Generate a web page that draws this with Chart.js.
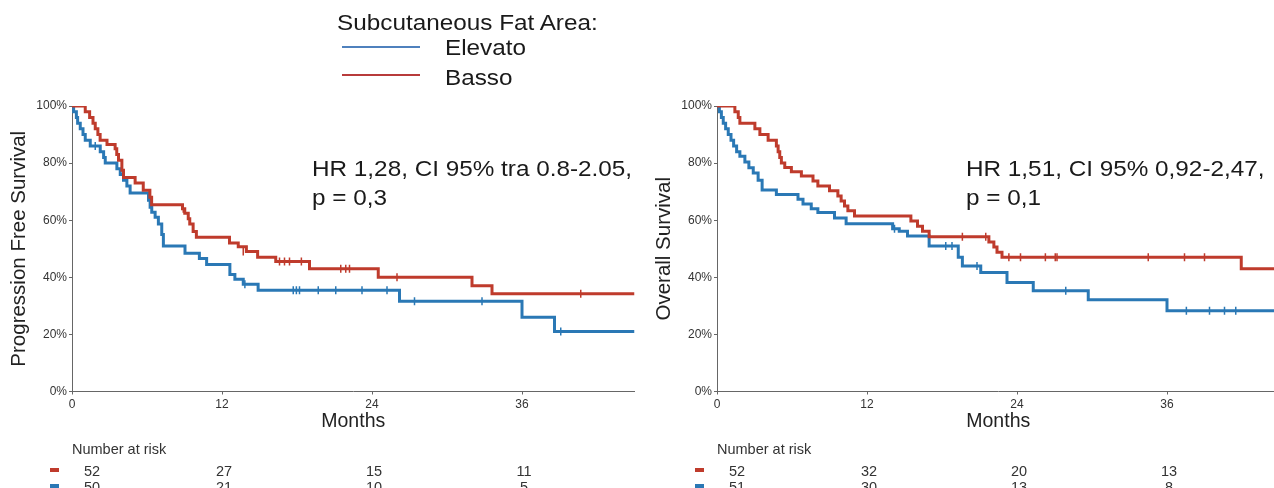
<!DOCTYPE html>
<html>
<head>
<meta charset="utf-8">
<script src="https://cdn.jsdelivr.net/npm/chart.js@4"></script>
<style>
  html, body { margin: 0; padding: 0; background: #fff; overflow: hidden; }
  #wrap { position: relative; width: 1274px; height: 488px; overflow: hidden; background: #fff;
          font-family: "Liberation Sans", Arial, sans-serif; color: #1a1a1a; }
  .box { position: absolute; top: 0; width: 640px; height: 488px; }
  .txt { position: absolute; white-space: nowrap; line-height: 1; font-size: 22.5px;
         transform: scaleX(1.08); transform-origin: 0 0; }
  .swatch { position: absolute; height: 2px; width: 78px; }
</style>
</head>
<body>
<div id="wrap">
  <div class="box" style="left:0"><canvas id="pfs"></canvas></div>
  <div class="box" style="left:645px"><canvas id="os"></canvas></div>

  <div class="txt" style="left:337px;top:12px">Subcutaneous Fat Area:</div>
  <div class="swatch" style="left:342px;top:46px;background:#4f81bd"></div>
  <div class="txt" style="left:445px;top:37px">Elevato</div>
  <div class="swatch" style="left:342px;top:74px;background:#b83b3b"></div>
  <div class="txt" style="left:445px;top:67px">Basso</div>

  <div class="txt" style="left:312px;top:155px;line-height:28.5px">HR 1,28, CI 95% tra 0.8-2.05,<br>p = 0,3</div>
  <div class="txt" style="left:966px;top:155px;line-height:28.5px">HR 1,51, CI 95% 0,92-2,47,<br>p = 0,1</div>
</div>

<script>
// colours
const RED = '#bf3b2c';
const BLUE = '#2a78b5';

// Progression free survival - Basso
const pfsBassoT = [0, 1.06, 1.41, 1.68, 1.86, 2.07, 2.25, 2.8, 3.45, 3.58, 3.72, 3.99, 4.12, 5.05, 5.7, 6.23, 6.37,
  8.84, 9.02, 9.3, 9.42, 9.69, 9.95, 12.6, 13.3, 13.95, 14.85, 16.3, 19.0, 24.5, 32.0, 33.6, 45];
const pfsBassoS = [100, 98, 96, 94, 92, 90, 88, 86.5, 85, 83, 81, 77.5, 75, 73, 70.5, 68, 65.4,
  64, 62.4, 60.5, 58.7, 56, 54, 52, 50.7, 49, 47, 45.5, 43, 40, 37, 34.2, 34.2];
const pfsBassoCensT = [8.9, 13.7, 16.6, 17.0, 17.4, 18.35, 21.5, 21.9, 22.2, 26.0, 40.7];
const pfsBassoCensS = [64, 49, 45.5, 45.5, 45.5, 45.5, 43, 43, 43, 40, 34.2];

// Progression free survival - Elevato
const pfsElevT = [0, 0.13, 0.35, 0.45, 0.66, 0.88, 1.06, 1.46, 2.26, 2.53, 2.66, 3.59, 3.86, 4.12, 4.39, 4.65,
  6.12, 6.25, 6.38, 6.65, 6.91, 7.18, 7.31, 9.04, 10.19, 10.77, 12.63, 13.03, 13.7, 14.89, 26.2, 36.0, 38.6, 45];
const pfsElevS = [100, 98, 96, 94, 92, 90, 88, 86, 84, 82, 80, 78, 76, 74, 72, 69.5,
  67, 64.5, 62.8, 61, 58.7, 55, 51, 48.4, 46.6, 44.5, 41, 39.3, 37.6, 35.5, 31.6, 26, 21, 21];
const pfsElevCensT = [1.86, 13.83, 17.7, 17.95, 18.2, 19.7, 21.1, 23.2, 25.2, 27.4, 32.8, 39.1];
const pfsElevCensS = [86, 37.6, 35.5, 35.5, 35.5, 35.5, 35.5, 35.5, 35.5, 31.6, 31.6, 21];

// Overall survival - Basso
const osBassoT = [0, 1.43, 1.7, 1.83, 3.03, 3.43, 4.09, 4.75, 4.89, 5.02, 5.15, 5.42, 5.95, 6.75, 7.68, 8.07,
  9.0, 9.67, 9.93, 10.2, 10.47, 11.0, 15.51, 16.04, 16.44, 16.97, 21.75, 22.15, 22.4, 22.8, 41.94, 45];
const osBassoS = [100, 98, 96, 94, 92, 90, 88, 86, 84, 82, 80, 78.5, 77, 75.5, 73.7, 72,
  70.3, 68.5, 66.7, 65, 63.3, 61.5, 59.7, 57.9, 56.1, 54.2, 52.4, 50.6, 48.8, 47, 43, 43];
const osBassoCensT = [19.63, 21.5, 23.35, 24.28, 26.27, 27.06, 27.2, 34.5, 37.4, 39.0];
const osBassoCensS = [54.2, 54.2, 47, 47, 47, 47, 47, 47, 47, 47];

// Overall survival - Elevato
const osElevT = [0, 0.19, 0.35, 0.5, 0.69, 0.9, 1.12, 1.33, 1.57, 1.83, 2.23, 2.55, 2.9, 3.29, 3.61, 4.75,
  6.48, 6.88, 7.54, 8.07, 9.4, 10.33, 14.05, 14.58, 15.24, 16.97, 19.3, 19.63, 21.1, 23.2, 25.3, 29.7, 36.0, 45];
const osElevS = [100, 98, 96, 94, 92, 90, 88, 86, 84, 82.4, 80.4, 78.4, 76.5, 74, 70.6, 69,
  67.3, 65.7, 64, 62.7, 60.8, 58.8, 57, 56.1, 54.5, 51, 47, 44, 41.7, 38.2, 35.3, 32.1, 28.3, 28.3];
const osElevCensT = [14.2, 18.3, 18.8, 20.8, 27.9, 37.55, 39.4, 40.6, 41.5];
const osElevCensS = [57, 51, 51, 44, 35.3, 28.3, 28.3, 28.3, 28.3];

// number at risk
const riskTimes = [0, 12, 24, 36];
const pfsRiskBasso = [52, 27, 15, 11];
const pfsRiskElev = [50, 21, 10, 5];
const osRiskBasso = [52, 32, 20, 13];
const osRiskElev = [51, 30, 13, 8];

const FONT = '"Liberation Sans", Arial, sans-serif';
const zip = (t, s) => t.map((v, i) => ({ x: v, y: s[i] }));

const riskTable = {
  id: 'riskTable',
  afterDraw(chart, args, opts) {
    const ctx = chart.ctx;
    const xs = chart.scales.x;
    const left = chart.chartArea.left;
    ctx.save();
    ctx.font = '14.5px ' + FONT;
    ctx.fillStyle = '#333';
    ctx.textAlign = 'left';
    ctx.textBaseline = 'alphabetic';
    ctx.fillText('Number at risk', left, 454);
    opts.rows.forEach((row, r) => {
      const y = 470 + r * 16;
      ctx.fillStyle = row.color;
      ctx.fillRect(left - 22, y - 2, 9, 4);
      ctx.fillStyle = '#333';
      ctx.textAlign = 'center';
      row.values.forEach((n, i) => {
        const x = xs.getPixelForValue(riskTimes[i]) + (i === 0 ? 20 : 2);
        ctx.fillText(String(n), x, y + 6);
      });
    });
    ctx.restore();
  }
};

function kmChart(id, yTitle, bassoT, bassoS, bassoCT, bassoCS, elevT, elevS, elevCT, elevCS, riskB, riskE) {
  const line = (data, color) => ({
    data, borderColor: color, borderWidth: 3, pointRadius: 0, stepped: 'before', tension: 0, fill: false
  });
  const cens = (data, color) => ({
    data, showLine: false, borderColor: color, backgroundColor: color, pointStyle: 'line',
    rotation: 90, pointRadius: 4, pointBorderWidth: 1.5, pointHoverRadius: 4
  });
  new Chart(document.getElementById(id), {
    type: 'line',
    data: {
      datasets: [
        line(zip(bassoT, bassoS), RED),
        cens(zip(bassoCT, bassoCS), RED),
        line(zip(elevT, elevS), BLUE),
        cens(zip(elevCT, elevCS), BLUE)
      ]
    },
    options: {
      responsive: true,
      maintainAspectRatio: false,
      animation: false,
      events: [],
      layout: { padding: { top: 106, right: 4, left: 0, bottom: 0 } },
      plugins: {
        legend: { display: false },
        tooltip: { enabled: false },
        riskTable: {
          rows: [{ color: RED, values: riskB }, { color: BLUE, values: riskE }]
        }
      },
      scales: {
        x: {
          type: 'linear', min: 0, max: 45,
          afterFit(s) { s.height = 96.5; },
          border: { display: true, color: '#666', width: 1 },
          grid: { display: true, drawOnChartArea: false, drawTicks: true, tickLength: 3, color: '#666' },
          ticks: { stepSize: 12, includeBounds: false, maxRotation: 0, padding: 3,
                   color: '#333', font: { family: FONT, size: 12 } },
          title: { display: true, text: 'Months', color: '#222',
                   font: { family: FONT, size: 19.5 }, padding: { top: 0, bottom: 55 } }
        },
        y: {
          min: 0, max: 100,
          afterFit(s) { s.width = 72; },
          border: { display: true, color: '#666', width: 1 },
          grid: { display: true, drawOnChartArea: false, drawTicks: true, tickLength: 3, color: '#666' },
          ticks: { stepSize: 20, padding: 2, color: '#333', font: { family: FONT, size: 12 },
                   callback: v => v + '%' },
          title: { display: true, text: yTitle, color: '#222',
                   font: { family: FONT, size: 20.5 }, padding: { top: 7, bottom: 0 } }
        }
      }
    },
    plugins: [riskTable]
  });
}

kmChart('pfs', 'Progression Free Survival',
  pfsBassoT, pfsBassoS, pfsBassoCensT, pfsBassoCensS,
  pfsElevT, pfsElevS, pfsElevCensT, pfsElevCensS, pfsRiskBasso, pfsRiskElev);
kmChart('os', 'Overall Survival',
  osBassoT, osBassoS, osBassoCensT, osBassoCensS,
  osElevT, osElevS, osElevCensT, osElevCensS, osRiskBasso, osRiskElev);
</script>
</body>
</html>
